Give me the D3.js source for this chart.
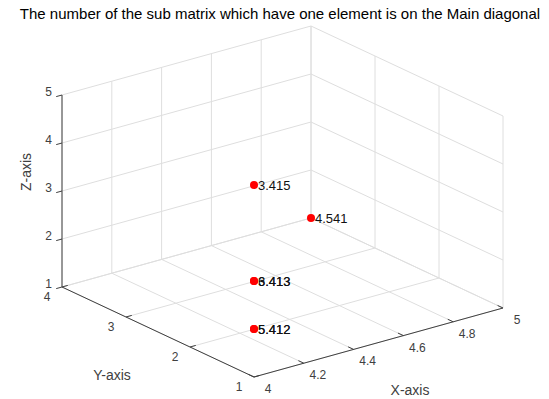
<!DOCTYPE html>
<html>
<head>
<meta charset="utf-8">
<script src="https://cdn.jsdelivr.net/npm/d3@7"></script>
<style>
  body { margin: 0; background: #fff; }
  svg text { font-family: "Liberation Sans", Arial, Helvetica, sans-serif; }
</style>
</head>
<body>
<div id="chart"></div>
<script>
(function () {
    "use strict";

    var title = 'The number of the sub matrix which have one element is on the Main diagonal';

    var xTicks = [4, 4.2, 4.4, 4.6, 4.8, 5];
    var yTicks = [1, 2, 3, 4];
    var zTicks = [1, 2, 3, 4, 5];

    var pointX = [4, 4, 4, 4, 4, 5];
    var pointY = [1, 1, 1, 1, 1, 4];
    var pointZ = [5, 3, 3, 2, 2, 1];
    var pointLabels = ['3.415', '6.413', '3.413', '5.412', '5.412', '4.541'];

    var width = 549, height = 399;

    // projection of the MATLAB-like 3D box
    var origin = { x: 62, y: 287 };      // corner (x=4, y=4, z=1)
    var ex = { x: 249, y: -69 };          // full x range
    var ey = { x: 192, y: 90 };           // full y range (4 -> 1)
    var ez = { x: 0, y: -192 };           // full z range

    var x = d3.scaleLinear().domain([4, 5]).range([0, 1]);
    var y = d3.scaleLinear().domain([4, 1]).range([0, 1]);
    var z = d3.scaleLinear().domain([1, 5]).range([0, 1]);

    function proj(a, b, c) {
        var u = x(a), v = y(b), w = z(c);
        return [origin.x + u * ex.x + v * ey.x + w * ez.x,
                origin.y + u * ex.y + v * ey.y + w * ez.y];
    }

    var svg = d3.select('#chart').append('svg')
        .attr('width', width)
        .attr('height', height);

    var line = d3.line();

    function seg(g, p, q, color, w) {
        g.append('path')
            .attr('d', line([p, q]))
            .attr('fill', 'none')
            .attr('stroke', color)
            .attr('stroke-width', w);
    }

    var grid = svg.append('g').attr('class', 'grid');
    var gridColor = '#dedede';
    var xd = x.domain(), yd = y.domain(), zd = z.domain();

    // floor z=1
    xTicks.forEach(function (t) { seg(grid, proj(t, yd[0], zd[0]), proj(t, yd[1], zd[0]), gridColor, 1); });
    yTicks.forEach(function (t) { seg(grid, proj(xd[0], t, zd[0]), proj(xd[1], t, zd[0]), gridColor, 1); });
    // back wall y=4
    xTicks.forEach(function (t) { seg(grid, proj(t, 4, zd[0]), proj(t, 4, zd[1]), gridColor, 1); });
    zTicks.forEach(function (t) { seg(grid, proj(xd[0], 4, t), proj(xd[1], 4, t), gridColor, 1); });
    // back wall x=5
    yTicks.forEach(function (t) { seg(grid, proj(5, t, zd[0]), proj(5, t, zd[1]), gridColor, 1); });
    zTicks.forEach(function (t) { seg(grid, proj(5, yd[0], t), proj(5, yd[1], t), gridColor, 1); });

    // axes
    var axes = svg.append('g').attr('class', 'axes');
    var axisColor = '#404040';
    var tickColor = '#404040';
    var labelColor = '#404040';

    seg(axes, proj(4, 4, 1), proj(4, 4, 5), axisColor, 1);
    seg(axes, proj(4, 4, 1), proj(4, 1, 1), axisColor, 1);
    seg(axes, proj(4, 1, 1), proj(5, 1, 1), axisColor, 1);

    function unit(v, len) {
        var n = Math.sqrt(v.x * v.x + v.y * v.y);
        return [v.x / n * len, v.y / n * len];
    }
    var tx = unit({ x: -ey.x, y: -ey.y }, 6);   // x ticks point into +y
    var ty = unit(ex, 6);                       // y ticks point into +x
    var tz = unit({ x: -ex.x, y: -ex.y }, 6);   // z ticks point outward

    xTicks.forEach(function (t) {
        var p = proj(t, 1, 1);
        seg(axes, p, [p[0] + tx[0], p[1] + tx[1]], tickColor, 1);
        axes.append('text')
            .attr('x', p[0] + 14).attr('y', p[1] + 16)
            .attr('text-anchor', 'middle')
            .attr('font-size', 12).attr('fill', labelColor)
            .text(d3.format('~g')(t));
    });
    yTicks.forEach(function (t) {
        var p = proj(4, t, 1);
        seg(axes, p, [p[0] + ty[0], p[1] + ty[1]], tickColor, 1);
        axes.append('text')
            .attr('x', p[0] - 15).attr('y', p[1] + 14)
            .attr('text-anchor', 'middle')
            .attr('font-size', 12).attr('fill', labelColor)
            .text(t);
    });
    zTicks.forEach(function (t) {
        var p = proj(4, 4, t);
        seg(axes, p, [p[0] + tz[0], p[1] + tz[1]], tickColor, 1);
        axes.append('text')
            .attr('x', p[0] - 10).attr('y', p[1] + 1)
            .attr('text-anchor', 'end')
            .attr('font-size', 12).attr('fill', labelColor)
            .text(t);
    });

    // axis titles
    axes.append('text')
        .attr('x', 410).attr('y', 395)
        .attr('text-anchor', 'middle')
        .attr('font-size', 14).attr('fill', labelColor)
        .text('X-axis');
    axes.append('text')
        .attr('x', 112).attr('y', 380)
        .attr('text-anchor', 'middle')
        .attr('font-size', 14).attr('fill', labelColor)
        .text('Y-axis');
    axes.append('text')
        .attr('transform', 'translate(31,172) rotate(-90)')
        .attr('text-anchor', 'middle')
        .attr('font-size', 14).attr('fill', labelColor)
        .text('Z-axis');

    // title
    svg.append('text')
        .attr('x', 280).attr('y', 19)
        .attr('text-anchor', 'middle')
        .attr('font-size', 15).attr('fill', '#000')
        .text(title);

    // points
    var pts = pointX.map(function (d, i) {
        return { x: d, y: pointY[i], z: pointZ[i], label: pointLabels[i] };
    });

    var marks = svg.append('g').attr('class', 'points');
    marks.selectAll('circle')
        .data(pts)
        .enter().append('circle')
        .attr('cx', function (d) { return proj(d.x, d.y, d.z)[0]; })
        .attr('cy', function (d) { return proj(d.x, d.y, d.z)[1]; })
        .attr('r', 4)
        .attr('fill', '#ff0000');

    marks.selectAll('text')
        .data(pts)
        .enter().append('text')
        .attr('x', function (d) { return proj(d.x, d.y, d.z)[0] + 4; })
        .attr('y', function (d) { return proj(d.x, d.y, d.z)[1] + 4.5; })
        .attr('font-size', 13)
        .attr('fill', '#111')
        .text(function (d) { return d.label; });
})();
</script>
</body>
</html>
